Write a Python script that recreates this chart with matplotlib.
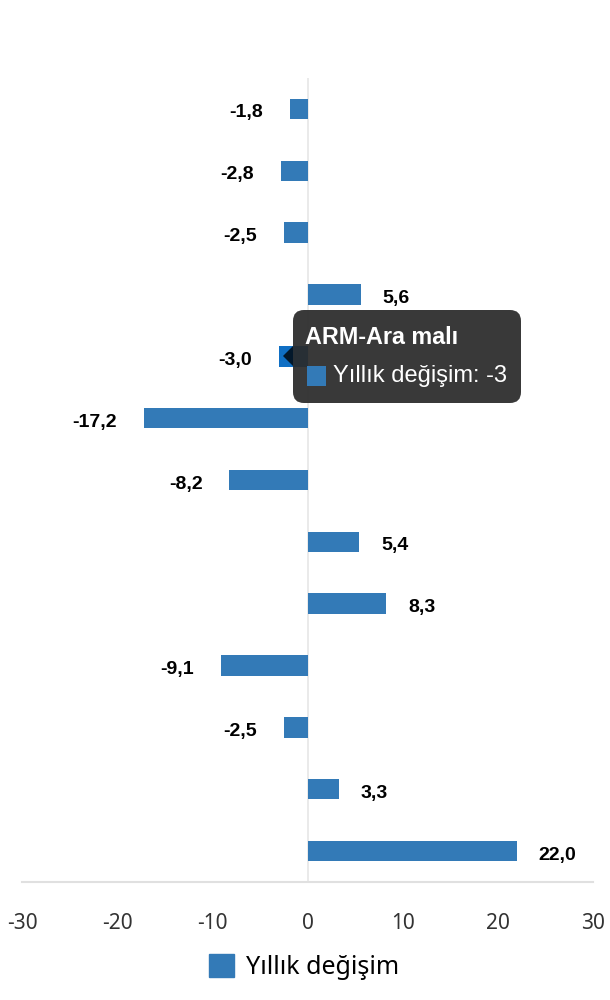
import matplotlib
matplotlib.use("Agg")
import matplotlib.pyplot as plt
from matplotlib.patches import FancyBboxPatch, Polygon, Rectangle
import numpy as np

# ---- data ----
categories = [f"k{i+1}" for i in range(13)]
categories[4] = "ARM-Ara malı"
values = [-1.8, -2.8, -2.5, 5.6, -3.0, -17.2, -8.2, 5.4, 8.3, -9.1, -2.5, 3.3, 22.0]
xticks = [-30, -20, -10, 0, 10, 20, 30]
series_name = "Yıllık değişim"
hover_index = 4

BAR = "#337ab7"
HOVER = "#0f6fc4"

W, H = 610, 1000
fig = plt.figure(figsize=(W / 100, H / 100), dpi=100)
ax = fig.add_axes([22 / W, (H - 882) / H, (593 - 22) / W, (882 - 78) / H])

y = np.arange(len(values))
colors = [HOVER if i == hover_index else BAR for i in range(len(values))]
bars = ax.barh(y, values, height=0.33, color=colors, zorder=3, label=series_name)

ax.set_xlim(-30, 30)
ax.set_ylim(len(values) - 0.5, -0.5)
ax.set_xticks(xticks)
ax.set_xticklabels([str(t) for t in xticks], fontsize=15, color="#333333",
                   family="Noto Sans")
ax.tick_params(axis="x", length=0, pad=22)
ax.set_yticks([])
for s in ["top", "right", "left"]:
    ax.spines[s].set_visible(False)
ax.spines["bottom"].set_color("#e0e0e0")
ax.spines["bottom"].set_linewidth(1.5)
ax.axvline(0, color="#e6e6e6", lw=1.2, zorder=1)

# value labels
for yi, v in zip(y, values):
    txt = f"{v:.1f}".replace(".", ",")
    if v < 0:
        ax.annotate(txt, (v, yi), xytext=(-27, -4), textcoords="offset pixels",
                    ha="right", va="center", fontsize=14, fontweight="bold",
                    family="Liberation Sans", color="black", zorder=4)
    else:
        ax.annotate(txt, (v, yi), xytext=(22, -4), textcoords="offset pixels",
                    ha="left", va="center", fontsize=14, fontweight="bold",
                    family="Liberation Sans", color="black", zorder=4)

# tooltip (anchored to hovered bar, in pixel offsets)
disp = ax.transData.transform((values[hover_index], hover_index))
fx, fy = fig.transFigure.inverted().transform(disp)
def px(dx, dy):
    # pixel offset (dx right, dy down) from anchor -> figure fraction
    return fx + dx / W, fy - dy / H

box_l, box_r = 293, 521
box_t, box_b = 310, 403
ax_px = disp[0]
ay_px = H - disp[1]
x0, y0 = px(box_l - ax_px, box_b - ay_px)
x1, y1 = px(box_r - ax_px, box_t - ay_px)
tip = FancyBboxPatch((x0, y0), x1 - x0, y1 - y0,
                     boxstyle="round,pad=0,rounding_size=0.018",
                     transform=fig.transFigure, facecolor="#2a2a2a",
                     edgecolor="none", alpha=0.93, zorder=10,
                     mutation_aspect=W / H)
fig.add_artist(tip)
arrow = Polygon([px(283 - ax_px, 356 - ay_px), px(293 - ax_px, 346 - ay_px),
                 px(293 - ax_px, 366 - ay_px)], closed=True,
                transform=fig.transFigure, facecolor="#03182b",
                edgecolor="none", zorder=10)
fig.add_artist(arrow)
tx, ty = px(305 - ax_px, 337 - ay_px)
fig.text(tx, ty, categories[hover_index], color="white", fontsize=16.8,
         fontweight="bold", family="Liberation Sans", va="center", ha="left",
         zorder=11)
mx0, my0 = px(307 - ax_px, 386 - ay_px)
mx1, my1 = px(326 - ax_px, 366 - ay_px)
fig.add_artist(Rectangle((mx0, my0), mx1 - mx0, my1 - my0, transform=fig.transFigure,
                         facecolor=BAR, edgecolor="none", zorder=11))
tx2, ty2 = px(333 - ax_px, 376 - ay_px)
v = values[hover_index]
fig.text(tx2, ty2, f"{series_name}: {v:g}", color="white", fontsize=17,
         family="Liberation Sans", va="center", ha="left", zorder=11)

# legend
leg = fig.legend(handles=[bars.patches[0]], labels=[series_name],
                 loc="center", bbox_to_anchor=(304 / W, (H - 967) / H),
                 frameon=False, handlelength=1.0, handleheight=1.0,
                 handletextpad=0.5, prop={"family": "Noto Sans", "size": 18})
leg.legend_handles[0].set_color(BAR)

fig.savefig("out.png", dpi=100)
